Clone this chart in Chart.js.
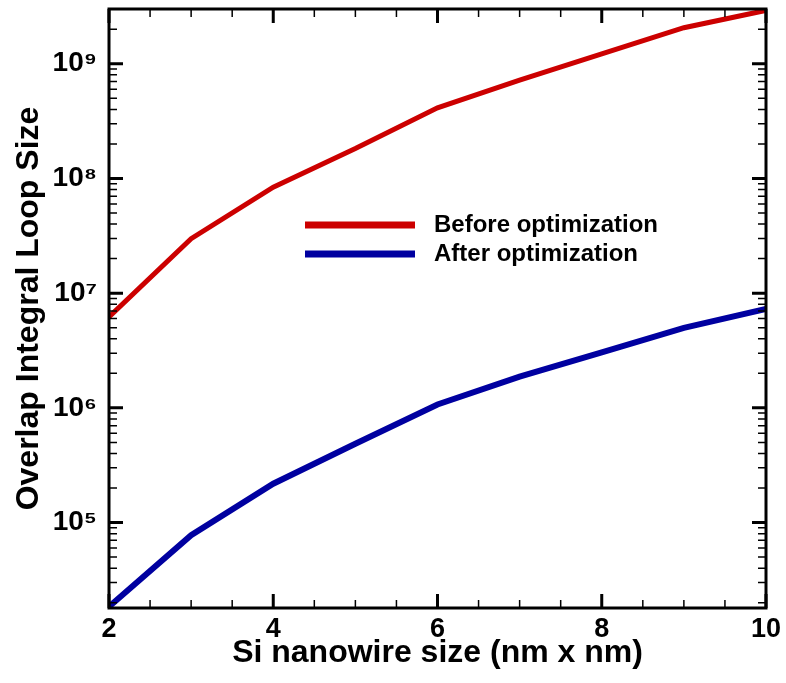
<!DOCTYPE html>
<html>
<head>
<meta charset="utf-8">
<script src="https://cdn.jsdelivr.net/npm/chart.js@4"></script>
<style>
  html, body { margin: 0; padding: 0; background: #fff; }
</style>
</head>
<body>
<canvas id="myChart" width="786" height="683"></canvas>
<script>
// Data
const sizes = [2, 3, 4, 5, 6, 7, 8, 9, 10];
const beforeOpt = [6.2e6, 2.98e7, 8.4e7, 1.82e8, 4.13e8, 7.2e8, 1.22e9, 2.06e9, 2.92e9];
const afterOpt = [1.85e4, 7.76e4, 2.18e5, 4.87e5, 1.07e6, 1.87e6, 3.05e6, 4.99e6, 7.3e6];
const xMajorTicks = [2, 4, 6, 8, 10];
const yMajorTicks = [1e5, 1e6, 1e7, 1e8, 1e9];
const yTickLabels = ['10⁵', '10⁶', '10⁷', '10⁸', '10⁹'];

const FONT = '"Liberation Sans", Arial, sans-serif';

// inward tick marks on all four sides + frame
const frameTicks = {
  id: 'frameTicks',
  afterDraw(chart) {
    const { ctx, chartArea: a, scales: { x, y } } = chart;
    ctx.save();
    ctx.strokeStyle = '#000';
    x.ticks.forEach(t => {
      const px = x.getPixelForValue(t.value);
      const major = xMajorTicks.includes(t.value);
      const len = major ? 14 : 8;
      ctx.lineWidth = major ? 3 : 1.5;
      ctx.beginPath();
      ctx.moveTo(px, a.bottom); ctx.lineTo(px, a.bottom - len);
      ctx.moveTo(px, a.top); ctx.lineTo(px, a.top + len);
      ctx.stroke();
    });
    y.ticks.forEach(t => {
      const py = y.getPixelForValue(t.value);
      const major = yMajorTicks.includes(t.value);
      const len = major ? 14 : 8;
      ctx.lineWidth = major ? 3 : 1.5;
      ctx.beginPath();
      ctx.moveTo(a.left, py); ctx.lineTo(a.left + len, py);
      ctx.moveTo(a.right, py); ctx.lineTo(a.right - len, py);
      ctx.stroke();
    });
    ctx.lineWidth = 3;
    ctx.strokeRect(a.left, a.top, a.right - a.left, a.bottom - a.top);
    ctx.restore();
  }
};

// legend drawn inside the plot
const insideLegend = {
  id: 'insideLegend',
  afterDraw(chart) {
    const ctx = chart.ctx;
    ctx.save();
    ctx.font = 'bold 24px ' + FONT;
    ctx.textBaseline = 'middle';
    chart.data.datasets.forEach((ds, i) => {
      const yy = 225 + i * 29;
      ctx.strokeStyle = ds.borderColor;
      ctx.lineWidth = 7;
      ctx.beginPath();
      ctx.moveTo(305, yy); ctx.lineTo(415, yy);
      ctx.stroke();
      ctx.fillStyle = '#000';
      ctx.fillText(ds.label, 434, yy);
    });
    ctx.restore();
  }
};

const ctx = document.getElementById('myChart');
const myChart = new Chart(ctx, {
  type: 'line',
  data: {
    datasets: [{
      label: 'Before optimization',
      data: sizes.map((s, i) => ({ x: s, y: beforeOpt[i] })),
      borderColor: '#cc0000',
      borderWidth: 5,
      pointRadius: 0,
      tension: 0
    }, {
      label: 'After optimization',
      data: sizes.map((s, i) => ({ x: s, y: afterOpt[i] })),
      borderColor: '#0000a0',
      borderWidth: 6,
      pointRadius: 0,
      tension: 0
    }]
  },
  options: {
    responsive: false,
    animation: false,
    layout: { padding: { top: 9, right: 20, left: 0, bottom: 0 } },
    plugins: {
      legend: { display: false },
      tooltip: { enabled: false }
    },
    scales: {
      x: {
        type: 'linear',
        min: 2,
        max: 10,
        grid: { display: false },
        border: { display: false },
        afterBuildTicks: scale => {
          const t = [];
          for (let v = 2; v <= 10; v += 0.5) t.push({ value: v });
          scale.ticks = t;
        },
        afterFit: scale => {
          scale.height = 75;
          scale.paddingLeft = 0;
          scale.paddingRight = 0;
        },
        ticks: {
          autoSkip: false,
          maxRotation: 0,
          padding: -3,
          color: '#000',
          font: { family: FONT, size: 27, weight: 'bold' },
          callback: v => xMajorTicks.includes(v) ? String(v) : ''
        },
        title: {
          display: true,
          text: 'Si nanowire size (nm x nm)',
          color: '#000',
          font: { family: FONT, size: 32, weight: 'bold', lineHeight: 1 },
          padding: { top: 0, bottom: 14 }
        }
      },
      y: {
        type: 'logarithmic',
        min: 1.8e4,
        max: 3e9,
        grid: { display: false },
        border: { display: false },
        afterBuildTicks: scale => {
          const t = [];
          for (let n = 4; n <= 9; n++) {
            for (let m = 1; m <= 9; m++) {
              const v = m * Math.pow(10, n);
              if (v >= scale.min && v <= scale.max) t.push({ value: v });
            }
          }
          scale.ticks = t;
        },
        afterFit: scale => {
          scale.width = 109;
          scale.paddingTop = 0;
          scale.paddingBottom = 0;
        },
        ticks: {
          autoSkip: false,
          padding: 4,
          color: '#000',
          font: { family: FONT, size: 28, weight: 'bold' },
          callback: v => {
            const i = yMajorTicks.indexOf(v);
            return i >= 0 ? yTickLabels[i] : '';
          }
        },
        title: {
          display: true,
          text: 'Overlap Integral Loop Size',
          color: '#000',
          font: { family: FONT, size: 32, weight: 'bold', lineHeight: 1 },
          padding: { top: 13, bottom: 0 }
        }
      }
    }
  },
  plugins: [frameTicks, insideLegend]
});
</script>
</body>
</html>
